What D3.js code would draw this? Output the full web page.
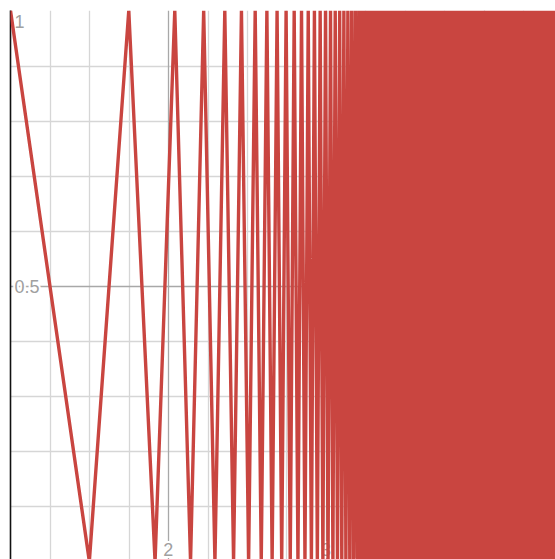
<!DOCTYPE html>
<html>
<head>
<meta charset="utf-8">
<script src="https://cdn.jsdelivr.net/npm/d3@7"></script>
<style>
  html, body { margin: 0; padding: 0; background: #fff; }
  svg { display: block; }
  .tick-label { font-family: "Liberation Sans", Arial, sans-serif; font-size: 18px; fill: #a0a0a0;
                stroke: #fff; stroke-width: 4px; paint-order: stroke; stroke-linejoin: round; }
</style>
</head>
<body>
<svg id="chart" width="555" height="559"></svg>
<script>
// x positions where the zigzag touches the top (y = 1)
const peakX = [
  1, 1.75, 2.0417, 2.225, 2.3589, 2.4645, 2.5516, 2.6258, 2.6904, 2.7476,
  2.7989, 2.8454, 2.888, 2.9272, 2.9636, 2.9975, 3.0293, 3.0591, 3.0873, 3.114,
  3.1393, 3.1634, 3.1864, 3.2083, 3.2294, 3.2496,
  3.266, 3.282, 3.298, 3.314, 3.330, 3.346, 3.362, 3.378, 3.394, 3.410, 3.426,
  3.442, 3.458, 3.474, 3.490, 3.506, 3.522, 3.538, 3.554, 3.570, 3.586, 3.602,
  3.618, 3.634, 3.650, 3.666, 3.682, 3.698, 3.714, 3.730, 3.746, 3.762, 3.778,
  3.794, 3.810, 3.826, 3.842, 3.858, 3.874, 3.890, 3.906, 3.922, 3.938, 3.954,
  3.970, 3.986, 4.002, 4.018, 4.034, 4.050, 4.066, 4.082, 4.098, 4.114, 4.130,
  4.146, 4.162, 4.178, 4.194, 4.210, 4.226, 4.242, 4.258, 4.274, 4.290, 4.306,
  4.322, 4.338, 4.354, 4.370, 4.386, 4.402, 4.418, 4.434, 4.450, 4.466
];
// x positions where the zigzag touches the bottom (y = 0)
const troughX = [
  1.5, 1.9167, 2.1417, 2.2964, 2.4145, 2.51, 2.5901, 2.6591, 2.7198, 2.7739,
  2.8227, 2.8672, 2.908, 2.9458, 2.9809, 3.0136, 3.0444, 3.0734, 3.1008, 3.1268,
  3.1515, 3.175, 3.1975, 3.219, 3.2396,
  3.258, 3.274, 3.290, 3.306, 3.322, 3.338, 3.354, 3.370, 3.386, 3.402, 3.418,
  3.434, 3.450, 3.466, 3.482, 3.498, 3.514, 3.530, 3.546, 3.562, 3.578, 3.594,
  3.610, 3.626, 3.642, 3.658, 3.674, 3.690, 3.706, 3.722, 3.738, 3.754, 3.770,
  3.786, 3.802, 3.818, 3.834, 3.850, 3.866, 3.882, 3.898, 3.914, 3.930, 3.946,
  3.962, 3.978, 3.994, 4.010, 4.026, 4.042, 4.058, 4.074, 4.090, 4.106, 4.122,
  4.138, 4.154, 4.170, 4.186, 4.202, 4.218, 4.234, 4.250, 4.266, 4.282, 4.298,
  4.314, 4.330, 4.346, 4.362, 4.378, 4.394, 4.410, 4.426, 4.442, 4.458, 4.474
];
const peakY = 1;
const troughY = 0;

// grid and labelled ticks
const xGridTicks = [1.25, 1.5, 1.75, 2, 2.25, 2.5, 2.75, 3, 3.25, 3.5, 3.75, 4, 4.25];
const yGridTicks = [0.1, 0.2, 0.3, 0.4, 0.5, 0.6, 0.7, 0.8, 0.9];
const xLabelTicks = [2, 3, 4];
const yLabelTicks = [0.5, 1];
const xLabels = ["2", "3", "4"];
const yLabels = ["0.5", "1"];

const W = 555, H = 559;
const plotLeft = 10.5, plotTop = 10.5;

const x = d3.scaleLinear().domain([1, 4.45]).range([plotLeft, plotLeft + 3.45 * 157.7]);
const y = d3.scaleLinear().domain([0, 1]).range([561.5, plotTop]);

const svg = d3.select("#chart");

svg.append("defs").append("clipPath").attr("id", "plot-clip")
  .append("rect").attr("x", plotLeft).attr("y", plotTop)
  .attr("width", W - plotLeft).attr("height", H - plotTop);

const grid = svg.append("g").attr("clip-path", "url(#plot-clip)");

// minor grid
grid.append("g").selectAll("line")
  .data(xGridTicks.filter(d => !xLabelTicks.includes(d)))
  .join("line")
  .attr("x1", d => Math.round(x(d)) + 0.5).attr("x2", d => Math.round(x(d)) + 0.5)
  .attr("y1", plotTop).attr("y2", H)
  .attr("stroke", "#d6d6d6").attr("stroke-width", 1.3);

grid.append("g").selectAll("line")
  .data(yGridTicks.filter(d => !yLabelTicks.includes(d)))
  .join("line")
  .attr("y1", d => Math.round(y(d)) + 0.5).attr("y2", d => Math.round(y(d)) + 0.5)
  .attr("x1", plotLeft).attr("x2", W)
  .attr("stroke", "#d6d6d6").attr("stroke-width", 1.3);

// major tick lines
grid.append("g").selectAll("line")
  .data(xLabelTicks)
  .join("line")
  .attr("x1", d => Math.round(x(d)) + 0.5).attr("x2", d => Math.round(x(d)) + 0.5)
  .attr("y1", plotTop).attr("y2", H)
  .attr("stroke", "#a8a8a8").attr("stroke-width", 1.3);

grid.append("g").selectAll("line")
  .data(yLabelTicks.filter(d => d < 1))
  .join("line")
  .attr("y1", d => Math.round(y(d)) + 0.5).attr("y2", d => Math.round(y(d)) + 0.5)
  .attr("x1", plotLeft).attr("x2", W)
  .attr("stroke", "#a8a8a8").attr("stroke-width", 1.3);

// tick labels
svg.append("g").selectAll("text")
  .data(xLabelTicks)
  .join("text")
  .attr("class", "tick-label")
  .attr("x", d => x(d))
  .attr("y", H - 3)
  .attr("text-anchor", "middle")
  .text((d, i) => xLabels[i]);

svg.append("g").selectAll("text")
  .data(yLabelTicks)
  .join("text")
  .attr("class", "tick-label")
  .attr("x", plotLeft + 4)
  .attr("y", d => Math.max(y(d) + 6.5, plotTop + 17.5))
  .text((d, i) => yLabels[i]);

// left axis
svg.append("line")
  .attr("x1", plotLeft).attr("x2", plotLeft)
  .attr("y1", plotTop).attr("y2", H)
  .attr("stroke", "#111").attr("stroke-width", 1.6);

// zigzag curve, drawn over grid and labels
const pts = peakX.map(v => ({ x: v, y: peakY }))
  .concat(troughX.map(v => ({ x: v, y: troughY })))
  .sort((a, b) => a.x - b.x);

svg.append("g").attr("clip-path", "url(#plot-clip)")
  .append("path")
  .datum(pts)
  .attr("fill", "none")
  .attr("stroke", "#c94540")
  .attr("stroke-width", 3.4)
  .attr("stroke-linejoin", "miter")
  .attr("d", d3.line().x(d => x(d.x)).y(d => y(d.y)));
</script>
</body>
</html>
